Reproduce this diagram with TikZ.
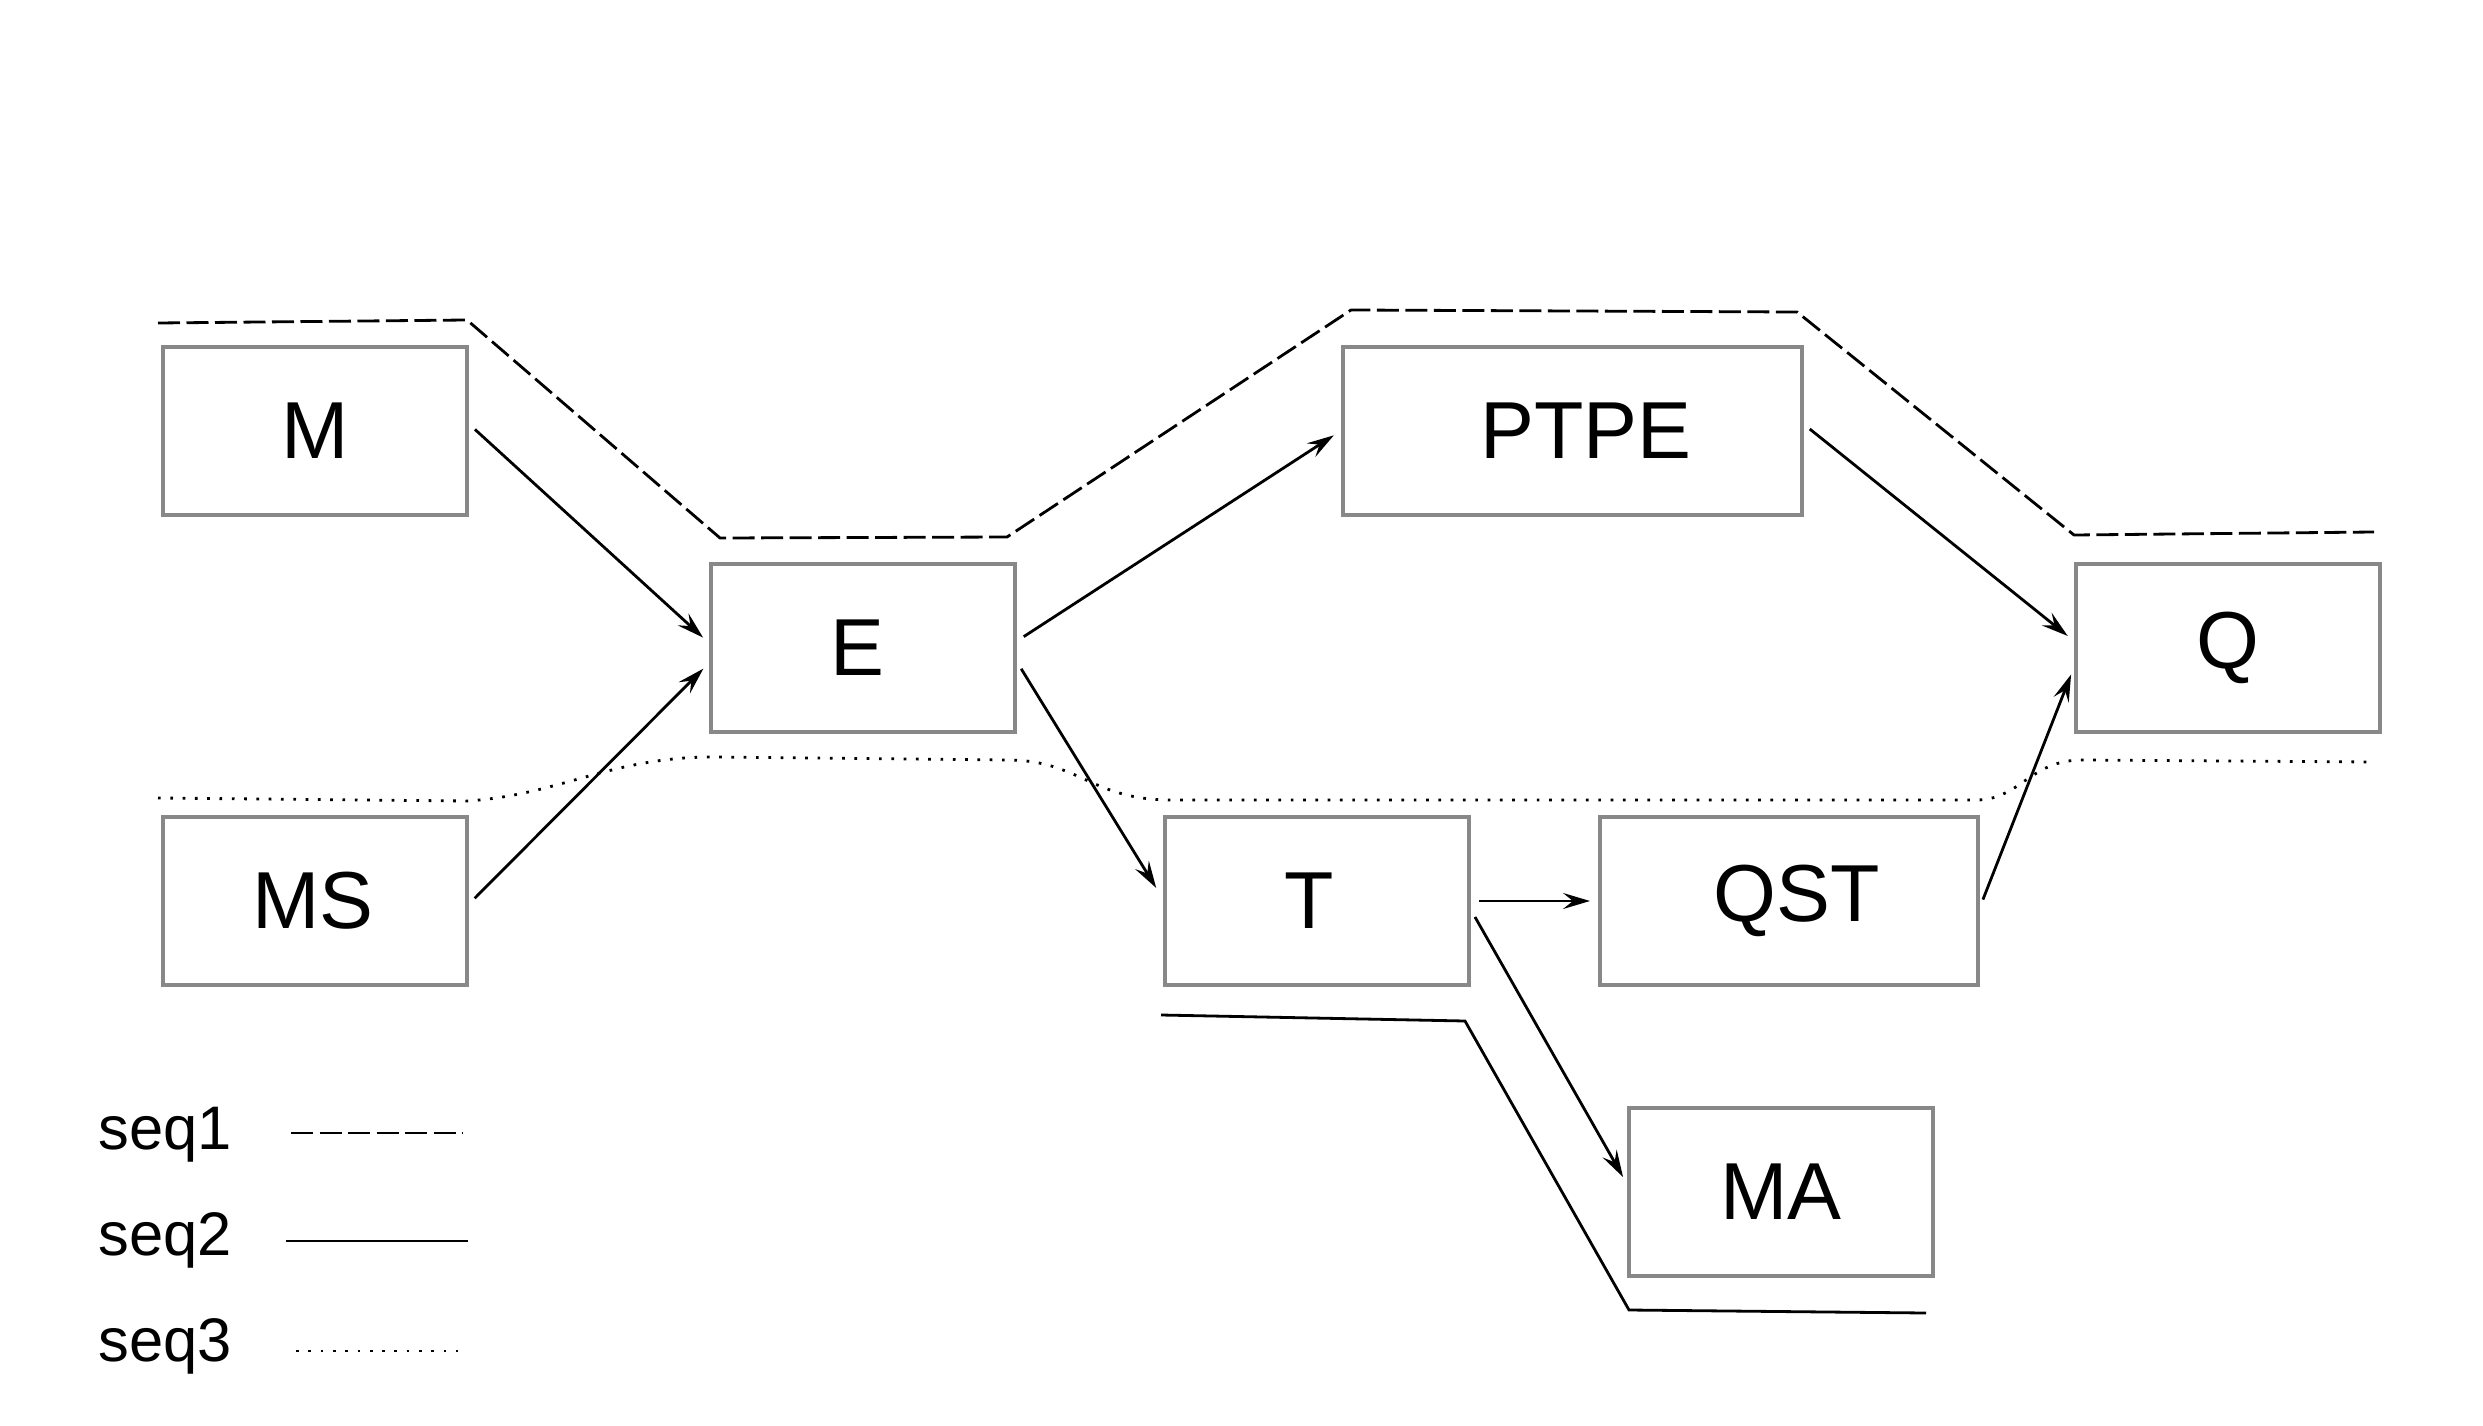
\documentclass[tikz,border=0pt]{standalone}
\usepackage{fontspec}
\setmainfont{Liberation Sans}
\usetikzlibrary{arrows.meta}
\definecolor{boxgray}{HTML}{888888}

\begin{document}
\begin{tikzpicture}[
  box/.style={draw=boxgray, line width=0.4mm, minimum width=3.04cm, minimum height=1.68cm, inner sep=0pt, font=\fontsize{23}{27}\selectfont},
  arr/.style={-{Stealth[length=2.7mm,width=1.6mm,inset=1mm]}, line width=0.28mm, shorten <=0.8mm, shorten >=0.8mm},
  seqa/.style={line width=0.28mm, dash pattern=on 2.2mm off 0.65mm},
  seqb/.style={line width=0.28mm},
  seqc/.style={line width=0.28mm, dash pattern=on 0.27mm off 0.96mm},
  legend/.style={anchor=west, inner sep=0pt, font=\fontsize{17.5}{21}\selectfont}
]
\useasboundingbox (0,0) rectangle (24.83,14.25);

\node[box] (m) at (3.15,9.94) {M};
\node[box] (ms) at (3.15,5.24) {MS\hspace*{0.04cm}};
\node[box] (e) at (8.63,7.77) {E\hspace*{0.12cm}};
\node[box, minimum width=4.59cm] (ptpe) at (15.72,9.94) {\hspace*{0.28cm}PTPE};
\node[box] (q) at (22.28,7.77) {Q};
\node[box] (t) at (13.17,5.24) {T\hspace*{0.16cm}};
\node[box, minimum width=3.78cm] (qst) at (17.89,5.24) {\hspace*{0.16cm}QST};
\node[box] (ma) at (17.81,2.33) {MA};

\draw[arr] ([yshift=0.07cm]m.east) -- ([yshift=0.05cm]e.west);
\draw[arr] ([yshift=-0.03cm]ms.east) -- ([yshift=-0.15cm]e.west);
\draw[arr] ([yshift=0.07cm]e.east) -- (ptpe.west);
\draw[arr, shorten >=1.3mm] ([yshift=-0.14cm]e.east) -- ([yshift=0.02cm]t.west);
\draw[arr] (t.east) -- (qst.west);
\draw[arr] ([yshift=-0.09cm]t.east) -- ([yshift=0.08cm]ma.west);
\draw[arr] ([yshift=0.07cm]ptpe.east) -- ([yshift=0.07cm]q.west);
\draw[arr] ([yshift=-0.06cm]qst.east) -- ([yshift=-0.19cm]q.west);

% seq1
\draw[seqa] (1.58,11.02) -- (4.67,11.05) -- (7.20,8.87) -- (10.07,8.88) -- (13.51,11.15)
  -- (17.97,11.13) -- (20.74,8.90) -- (23.74,8.93);
% seq2
\draw[seqb] (11.61,4.10) -- (14.65,4.04) -- (16.29,1.15) -- (19.26,1.12);
% seq3
\draw[seqc] (1.58,6.27) -- (4.67,6.24) .. controls (5.6,6.3) and (6.1,6.68) .. (7.13,6.68)
  -- (10.07,6.65) .. controls (10.8,6.65) and (10.9,6.25) .. (11.72,6.25)
  -- (19.76,6.25) .. controls (20.2,6.25) and (20.3,6.65) .. (20.82,6.65) -- (23.75,6.63);

\node[legend] (s1) at (0.98,2.90) {seq1};
\node[legend] (s2) at (0.98,1.85) {seq2};
\node[legend] (s3) at (0.98,0.79) {seq3};
\draw[seqa] (2.91,2.92) -- (4.63,2.92);
\draw[seqb] (2.86,1.84) -- (4.68,1.84);
\draw[seqc] (2.96,0.74) -- (4.58,0.74);
\end{tikzpicture}
\end{document}
